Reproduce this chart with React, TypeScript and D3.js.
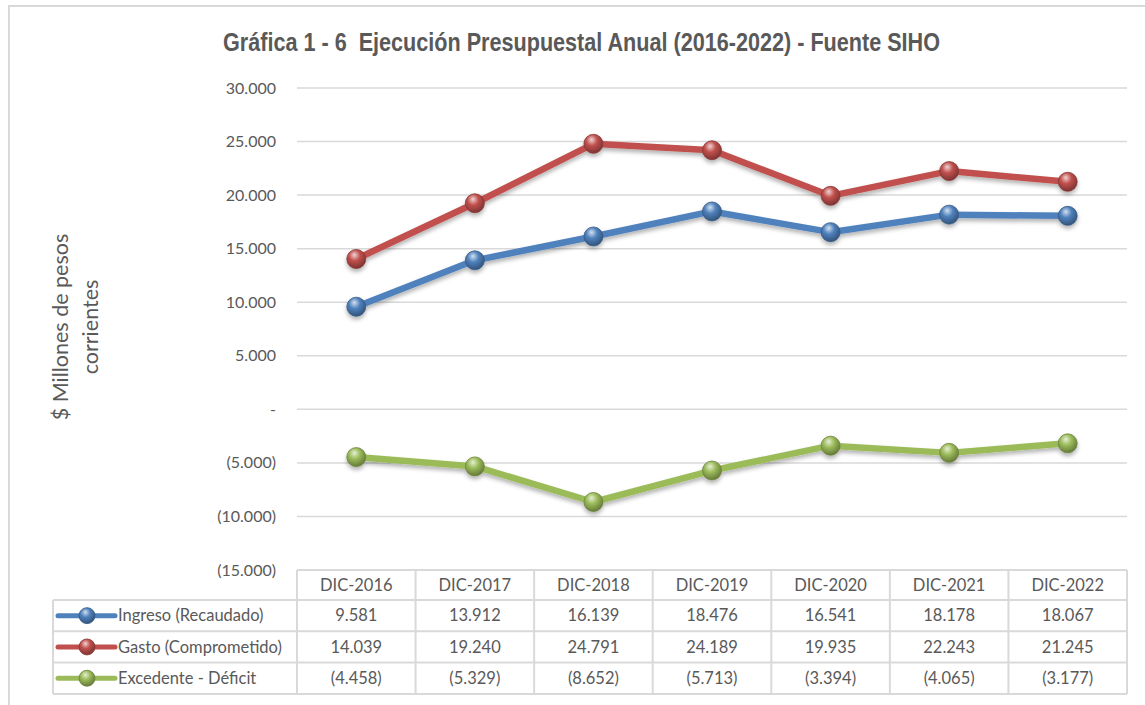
import React from 'react';
import * as d3 from 'd3';

const categories = ['DIC-2016', 'DIC-2017', 'DIC-2018', 'DIC-2019', 'DIC-2020', 'DIC-2021', 'DIC-2022'];
const ingreso = [9581, 13912, 16139, 18476, 16541, 18178, 18067];
const gasto = [14039, 19240, 24791, 24189, 19935, 22243, 21245];
const excedente = [-4458, -5329, -8652, -5713, -3394, -4065, -3177];
const seriesNames = ['Ingreso (Recaudado)', 'Gasto (Comprometido)', 'Excedente - Déficit'];
const seriesColors = ['#4F81BD', '#C0504D', '#9BBB59'];

const W = 1145;
const H = 705;
const left = 297;
const right = 1127;
const top = 88;
const bottom = 570;
const legendLeft = 53;
const headerH = 30;
const rowH = 31.3;
const grid = '#D9D9D9';
const textColor = '#595959';
const font = 'Lato, "Open Sans", sans-serif';

const locale = d3.formatLocale({ decimal: ',', thousands: '.', grouping: [3], currency: ['$', ''] });
const fmtInt = locale.format(',d');
const fmt = (v: number) => (v === 0 ? '-' : v < 0 ? `(${fmtInt(-v)})` : fmtInt(v));

const App: React.FC = () => {
    const x = d3.scaleBand<string>().domain(categories).range([left, right]);
    const y = d3.scaleLinear().domain([-15000, 30000]).range([bottom, top]);
    const ticks = y.ticks(9);
    const cx = (c: string) => (x(c) ?? 0) + x.bandwidth() / 2;

    const series = [ingreso, gasto, excedente];
    const line = d3.line<number>()
        .x((_, i) => cx(categories[i]))
        .y(d => y(d));

    const colEdges = [left, ...categories.map(c => (x(c) ?? 0) + x.bandwidth())];
    const rowTops = series.map((_, i) => bottom + headerH + i * rowH);
    const tableBottom = bottom + headerH + series.length * rowH;

    return (
        <svg width={W} height={H} style={{ position: 'absolute', left: 0, top: 0, background: '#fff' }}>
            <defs>
                {seriesColors.map((c, i) => (
                    <radialGradient key={i} id={`ball${i}`} cx="42%" cy="35%" r="65%" fx="40%" fy="28%">
                        <stop offset="0%" stopColor={d3.interpolateRgb(c, '#ffffff')(0.75)} />
                        <stop offset="45%" stopColor={c} />
                        <stop offset="100%" stopColor={d3.color(c)!.darker(1.2).formatHex()} />
                    </radialGradient>
                ))}
                <filter id="shadow" x="-10%" y="-30%" width="120%" height="180%">
                    <feDropShadow dx="0" dy="3" stdDeviation="2" floodColor="#000" floodOpacity="0.3" />
                </filter>
            </defs>

            {/* outer frame */}
            <rect x={9} y={6} width={1300} height={900} fill="none" stroke={grid} strokeWidth={2} />

            {/* title */}
            <text x={581.5} y={51} textAnchor="middle" fontFamily='"Liberation Sans", Arial, sans-serif'
                fontWeight="bold" fontSize={25} fill={textColor} textLength={717} lengthAdjust="spacingAndGlyphs"
                style={{ whiteSpace: 'pre' }}>
                Gráfica 1 - 6  Ejecución Presupuestal Anual (2016-2022) - Fuente SIHO
            </text>

            {/* y axis label */}
            <g transform="translate(0, 327) rotate(-90)" fontFamily={font} fontSize={21.5} fill={textColor} textAnchor="middle">
                <text x={0} y={68}>$ Millones de pesos</text>
                <text x={0} y={98}>corrientes</text>
            </g>

            {/* gridlines and ticks */}
            {ticks.map(t => (
                <g key={t}>
                    {t > -15000 && (
                        <line x1={left} x2={right} y1={y(t)} y2={y(t)} stroke={grid} strokeWidth={1.5} />
                    )}
                    <text x={276} y={y(t)} dy="0.35em" textAnchor="end" fontFamily={font} fontSize={16} fill={textColor}>
                        {fmt(t)}
                    </text>
                </g>
            ))}

            {/* series lines */}
            {series.map((s, i) => (
                <g key={i} filter="url(#shadow)">
                    <path d={line(s) ?? ''} fill="none" stroke={seriesColors[i]} strokeWidth={6.5} strokeLinejoin="round" />
                    {s.map((v, j) => (
                        <circle key={j} cx={cx(categories[j])} cy={y(v)} r={9.5} fill={`url(#ball${i})`}
                            stroke={d3.color(seriesColors[i])!.darker(1).formatHex()} strokeWidth={0.8} />
                    ))}
                </g>
            ))}

            {/* data table */}
            <g stroke={grid} strokeWidth={2} fill="none">
                <line x1={left} x2={right} y1={bottom} y2={bottom} />
                {rowTops.map((r, i) => (
                    <line key={i} x1={legendLeft} x2={right} y1={r} y2={r} />
                ))}
                <line x1={legendLeft} x2={right} y1={tableBottom} y2={tableBottom} />
                <line x1={legendLeft} x2={legendLeft} y1={rowTops[0]} y2={tableBottom} />
                {colEdges.map((e, i) => (
                    <line key={i} x1={e} x2={e} y1={bottom} y2={tableBottom} />
                ))}
            </g>
            <g fontFamily={font} fontSize={16.5} fill={textColor}>
                {categories.map(c => (
                    <text key={c} x={cx(c)} y={bottom + headerH / 2} dy="0.35em" textAnchor="middle">{c}</text>
                ))}
                {series.map((s, i) => (
                    <g key={i}>
                        {s.map((v, j) => (
                            <text key={j} x={cx(categories[j])} y={rowTops[i] + rowH / 2} dy="0.35em" textAnchor="middle">
                                {fmt(v)}
                            </text>
                        ))}
                        <line x1={58} x2={115} y1={rowTops[i] + rowH / 2} y2={rowTops[i] + rowH / 2}
                            stroke={seriesColors[i]} strokeWidth={5} strokeLinecap="round" />
                        <circle cx={87} cy={rowTops[i] + rowH / 2} r={8} fill={`url(#ball${i})`}
                            stroke={d3.color(seriesColors[i])!.darker(1).formatHex()} strokeWidth={0.8} />
                        <text x={118} y={rowTops[i] + rowH / 2} dy="0.35em">{seriesNames[i]}</text>
                    </g>
                ))}
            </g>
        </svg>
    );
};

export default App;
